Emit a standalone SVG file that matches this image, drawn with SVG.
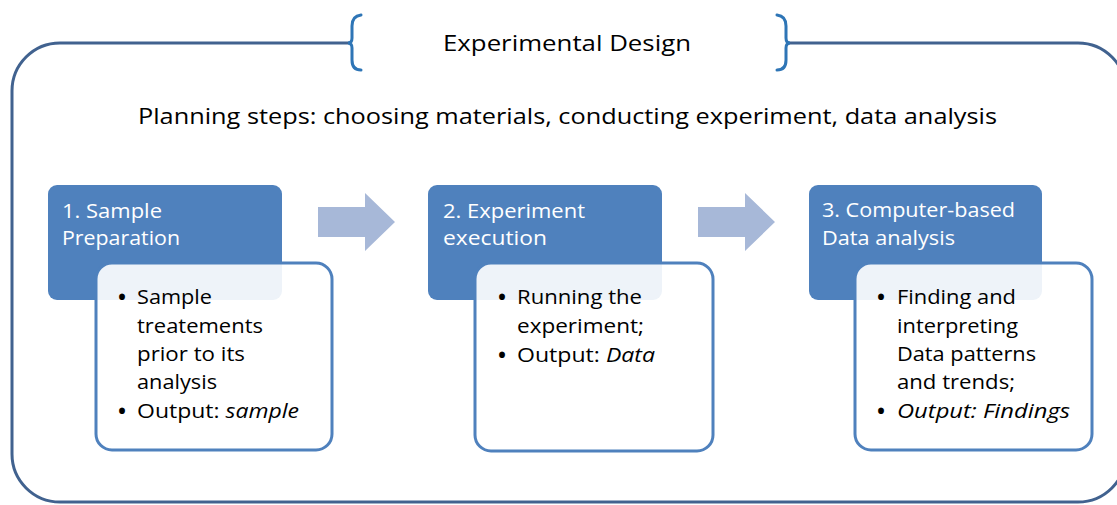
<svg xmlns="http://www.w3.org/2000/svg" width="1117" height="505" viewBox="0 0 1117 505">
<style>
.frame{fill:none;stroke:#41628F;stroke-width:3}
.brace{fill:none;stroke:#2E75B6;stroke-width:3;stroke-linecap:round}
.hdr{fill:#4F81BD}
.body{fill:#FFFFFF;fill-opacity:0.9;stroke:#4F81BD;stroke-width:3}
.arrow{fill:#A7B8D8}
text{font-family:"Open Sans","Liberation Sans",sans-serif;}
.t{font-size:21px;fill:#000}
.st{font-size:22px;fill:#000}
.h{font-size:20px;fill:#FFFFFF}
.b{font-size:20px;fill:#000}
.bul{font-size:28px;fill:#000;text-anchor:middle}
.i{font-style:italic}
</style>
<rect width="1117" height="505" fill="#FFFFFF"/>
<g id="frame">
<path class="frame" d="M350,43 L60,43 A48,48 0 0 0 12,91 L12,454 A48,48 0 0 0 60,502 L1078,502 A48,48 0 0 0 1126,454 L1126,91 A48,48 0 0 0 1078,43 L788,43"/>
<path class="brace" d="M361,15 Q352,16 352,26 L352,38 Q352,43 348,43 Q352,43 352,48 L352,60 Q352,70 361,70"/>
<path class="brace" d="M777,15 Q786,16 786,26 L786,38 Q786,43 790,43 Q786,43 786,48 L786,60 Q786,70 777,70"/>
<text id="title" class="t" x="443" y="51" textLength="248" lengthAdjust="spacingAndGlyphs">Experimental  Design</text>
<text id="subtitle" class="st" x="138" y="124" textLength="859" lengthAdjust="spacingAndGlyphs">Planning steps: choosing materials, conducting experiment, data analysis</text>
</g>
<g id="connectors">
<polygon class="arrow" points="318,207 365,207 365,193 395,222 365,251 365,237 318,237"/>
<polygon class="arrow" points="698,207 745,207 745,193 775,222 745,251 745,237 698,237"/>
</g>
<g id="step1">
<rect class="hdr" x="48" y="185" width="234" height="115" rx="9"/>
<text class="h" x="62" y="218" textLength="100" lengthAdjust="spacingAndGlyphs">1. Sample</text>
<text class="h" x="62" y="245" textLength="118" lengthAdjust="spacingAndGlyphs">Preparation</text>
<rect class="body" x="96" y="263" width="236" height="187" rx="16"/>
<text class="bul" x="122" y="307">•</text>
<text class="b" x="137" y="304" textLength="75" lengthAdjust="spacingAndGlyphs">Sample</text>
<text class="b" x="137" y="333" textLength="126" lengthAdjust="spacingAndGlyphs">treatements</text>
<text class="b" x="137" y="361" textLength="108" lengthAdjust="spacingAndGlyphs">prior to its</text>
<text class="b" x="137" y="389" textLength="80" lengthAdjust="spacingAndGlyphs">analysis</text>
<text class="bul" x="122" y="421">•</text>
<text class="b" x="137" y="418" textLength="162" lengthAdjust="spacingAndGlyphs">Output: <tspan class="i">sample</tspan></text>
</g>
<g id="step2">
<rect class="hdr" x="428" y="185" width="234" height="115" rx="9"/>
<text class="h" x="443" y="218" textLength="142" lengthAdjust="spacingAndGlyphs">2. Experiment</text>
<text class="h" x="443" y="245" textLength="104" lengthAdjust="spacingAndGlyphs">execution</text>
<rect class="body" x="475" y="263" width="238" height="188" rx="16"/>
<text class="bul" x="502" y="307">•</text>
<text class="b" x="517" y="304" textLength="125" lengthAdjust="spacingAndGlyphs">Running the</text>
<text class="b" x="517" y="333" textLength="127" lengthAdjust="spacingAndGlyphs">experiment;</text>
<text class="bul" x="502" y="365">•</text>
<text class="b" x="517" y="362" textLength="138" lengthAdjust="spacingAndGlyphs">Output: <tspan class="i">Data</tspan></text>
</g>
<g id="step3">
<rect class="hdr" x="809" y="185" width="233" height="115" rx="9"/>
<text class="h" x="822" y="217" textLength="193" lengthAdjust="spacingAndGlyphs">3. Computer-based</text>
<text class="h" x="822" y="245" textLength="133" lengthAdjust="spacingAndGlyphs">Data analysis</text>
<rect class="body" x="855" y="263" width="237" height="187" rx="16"/>
<text class="bul" x="881" y="307">•</text>
<text class="b" x="897" y="304" textLength="119" lengthAdjust="spacingAndGlyphs">Finding and</text>
<text class="b" x="897" y="333" textLength="121" lengthAdjust="spacingAndGlyphs">interpreting</text>
<text class="b" x="897" y="361" textLength="139" lengthAdjust="spacingAndGlyphs">Data patterns</text>
<text class="b" x="897" y="389" textLength="118" lengthAdjust="spacingAndGlyphs">and trends;</text>
<text class="bul" x="881" y="421">•</text>
<text class="b i" x="897" y="418" textLength="173" lengthAdjust="spacingAndGlyphs">Output: Findings</text>
</g>
</svg>
